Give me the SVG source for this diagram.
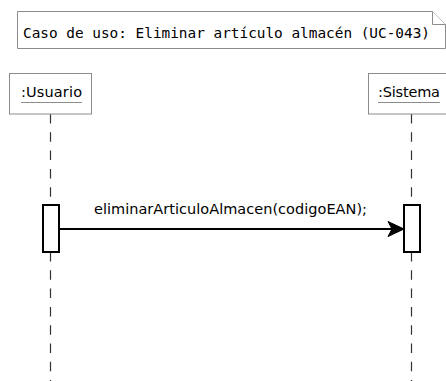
<svg xmlns="http://www.w3.org/2000/svg" width="446" height="381" viewBox="0 0 446 381">
<style>
.box{fill:#ffffff;stroke:#8c8c8c;stroke-width:1}
.lbl{font-family:"DejaVu Sans",sans-serif;font-size:14.5px;fill:#000}
.mono{font-family:"DejaVu Sans Mono",monospace;font-size:14.4px;fill:#000}
.ul{stroke:#8c8c8c;stroke-width:1}
.life{stroke:#333;stroke-width:1.2;stroke-dasharray:9.5 8.8;fill:none}
.act{fill:#fff;stroke:#000;stroke-width:2}
.msg{stroke:#000;stroke-width:2;fill:none}
</style>
<rect width="446" height="381" fill="#fff"/>
<g id="note">
<path class="box" d="M17.5,11.5 H432.5 L445.5,24.5 V48.5 H17.5 Z"/>
<path class="box" d="M432.5,11.5 V24.5 H445.5" fill="none"/>
<text class="mono" x="23" y="37.5" textLength="407" lengthAdjust="spacing">Caso de uso: Eliminar artículo almacén (UC-043)</text>
</g>
<g id="connectors">
<line class="life" x1="50.5" y1="114" x2="50.5" y2="205"/>
<line class="life" x1="50.5" y1="252" x2="50.5" y2="381"/>
<line class="life" x1="411.5" y1="114" x2="411.5" y2="205"/>
<line class="life" x1="411.5" y1="252" x2="411.5" y2="381"/>
<line class="msg" x1="59" y1="229" x2="396" y2="229"/>
<polygon points="388,221.5 404,229 388,236.5 392,229" fill="#000" stroke="#000" stroke-width="1"/>
<text class="lbl" x="94" y="213.5" textLength="273" lengthAdjust="spacing">eliminarArticuloAlmacen(codigoEAN);</text>
</g>
<g id="usuario">
<rect class="box" x="9.5" y="73.5" width="82" height="40.5"/>
<text class="lbl" x="21" y="97" textLength="61" lengthAdjust="spacing">:Usuario</text>
<line class="ul" x1="21" y1="102.5" x2="82" y2="102.5"/>
</g>
<g id="sistema">
<rect class="box" x="368.5" y="73.5" width="86" height="40.5"/>
<text class="lbl" x="378" y="97" textLength="62" lengthAdjust="spacing">:Sistema</text>
<line class="ul" x1="378" y1="102.5" x2="440" y2="102.5"/>
</g>
<g id="act-usuario">
<rect class="act" x="43" y="205" width="16" height="47"/>
</g>
<g id="act-sistema">
<rect class="act" x="404" y="205" width="16" height="47"/>
</g>
</svg>
